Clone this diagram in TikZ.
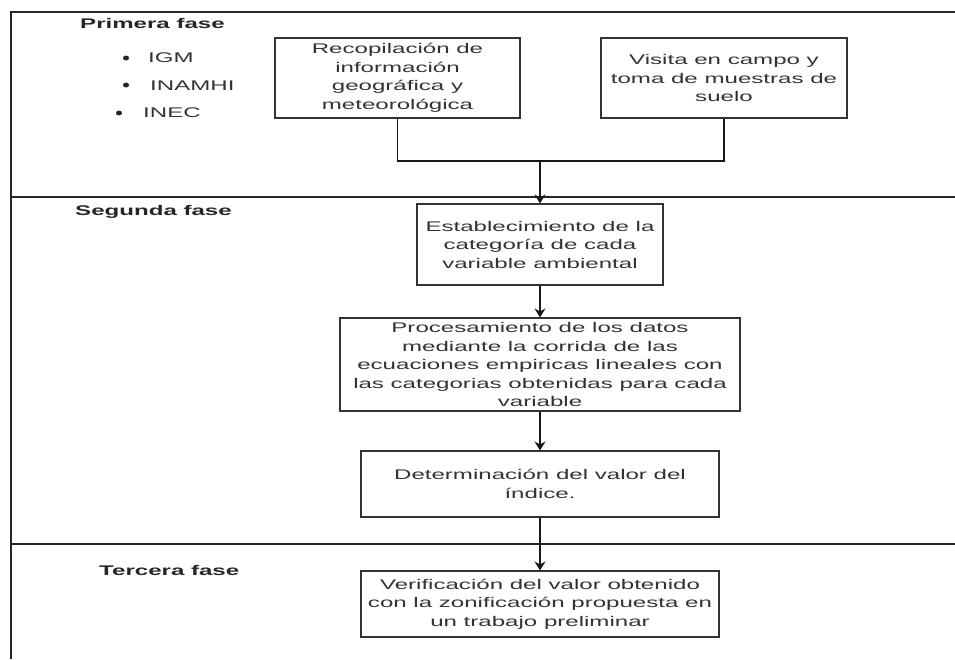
\documentclass[tikz,border=0pt]{standalone}
\usepackage{fontspec}
\setmainfont{Liberation Sans}[FakeStretch=1.72]
\usetikzlibrary{arrows.meta,shapes.geometric}
\begin{document}
\begin{tikzpicture}[x=1pt,y=-1pt,
  phase/.style={draw=black!85,line width=1.3pt},
  box/.style={draw=black!80,line width=1.1pt,align=center,inner sep=0pt,text=black!80,
    font=\fontsize{14}{18.5}\selectfont},
  lbl/.style={anchor=base west,inner sep=0pt,text=black!85,font=\fontsize{14}{17}\selectfont\bfseries},
  item/.style={anchor=base west,inner sep=0pt,text=black!80,font=\fontsize{14}{17}\selectfont},
  bul/.style={ellipse,fill=black!85,inner sep=0pt,minimum width=6pt,minimum height=5pt},
  conn/.style={draw=black!90,line width=1.2pt},
  arr/.style={conn,-{Stealth[length=9pt,width=11pt,inset=3pt]}}]
\useasboundingbox (0,0) rectangle (955,659);
% phase frame
\draw[phase] (955,12) -- (11,12) -- (11,659);
\draw[phase] (11,197) -- (955,197);
\draw[phase] (11,544) -- (955,544);
% phase labels
\node[lbl] (p1) at (80,28) {Primera fase};
\node[lbl] (p2) at (75,215) {Segunda fase};
\node[lbl] (p3) at (99,575) {Tercera fase};
% bullet list
\node[bul] (b1) at (126,58) {};
\node[item] (i1) at (148,62) {IGM};
\node[bul] (b2) at (126,85) {};
\node[item] (i2) at (150,90) {INAMHI};
\node[bul] (b3) at (119,113) {};
\node[item] (i3) at (143,117) {INEC};
% boxes
\node[box,minimum width=245,minimum height=80] (r) at (397.5,78)
  {Recopilación de\\información\\geográfica y\\meteorológica};
\node[box,minimum width=246,minimum height=80] (v) at (724,78)
  {Visita en campo y\\toma de muestras de\\suelo};
\node[box,minimum width=246,minimum height=81] (e) at (540,244.5)
  {Establecimiento de la\\categoría de cada\\variable ambiental};
\node[box,minimum width=400,minimum height=93] (pr) at (540,364.5)
  {Procesamiento de los datos\\mediante la corrida de las\\ecuaciones empiricas lineales con\\las categorias obtenidas para cada\\variable};
\node[box,minimum width=358,minimum height=66] (d) at (540,484)
  {Determinación del valor del\\índice.};
\node[box,minimum width=358,minimum height=66] (vf) at (540,604)
  {Verificación del valor obtenido\\con la zonificación propuesta en\\un trabajo preliminar};
% connectors
\coordinate (j) at (540,161);
\draw[conn] (r.south) |- (j) -| (v.south);
\draw[arr] (j) -- (e.north);
\draw[arr] (e.south) -- (pr.north);
\draw[arr] (pr.south) -- (d.north);
\draw[arr] (d.south) -- (vf.north);
\end{tikzpicture}
\end{document}
